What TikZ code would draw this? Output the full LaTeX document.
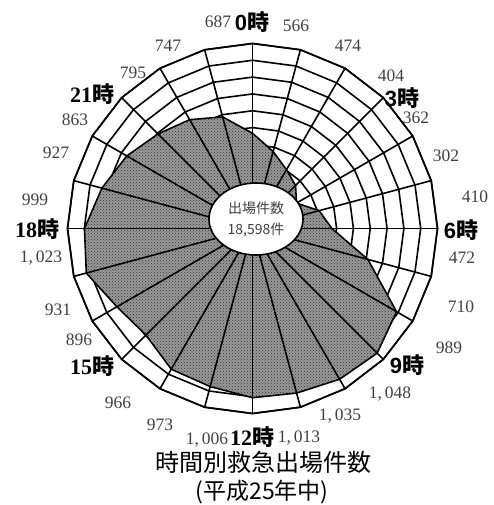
\documentclass[tikz,border=0pt]{standalone}
\usepackage{fontspec}
\setmainfont{Liberation Serif}
\setsansfont{Liberation Sans}
\newfontfamily\jpfont{Noto Sans CJK JP}
\usetikzlibrary{patterns, shapes.geometric}

\newcommand{\valscale}{0.16818}
\newcommand{\hr}[1]{#1{\jpfont\bfseries 時}}

\tikzset{
  grid/.style={line width=1.6pt, line join=miter},
  area/.style={draw=black, line width=1.6pt, fill=black!40,
    postaction={pattern=crosshatch dots, pattern color=black!80}},
  val/.style={text=black!75, inner sep=0pt, font=\fontsize{17.5}{17.5}\selectfont},
  hour/.style={inner sep=0pt, font=\fontsize{22}{22}\selectfont\bfseries},
}

\begin{document}
\begin{tikzpicture}[x=1pt, y=-1pt]
\useasboundingbox (0,0) rectangle (493,505);

\begin{scope}[shift={(252.5,228.5)}]
  \foreach \k in {1,...,11}
    \draw[grid] (-90:\k*16.82) \foreach \i in {1,...,23}{ -- ({15*\i-90}:\k*16.82)} -- cycle;
  \draw[area] (-90:566*\valscale)
    \foreach \v [count=\i] in {474,404,362,302,410,472,710,989,1048,1035,1013,1006,973,966,896,931,1023,999,927,863,795,747,687}
      { -- ({15*\i-90}:\v*\valscale)} -- cycle;
  \foreach \i in {0,...,23}
    \draw[grid] (0,0) -- ({15*\i-90}:185);
  \draw[grid] (-90:185) \foreach \i in {1,...,23}{ -- ({15*\i-90}:185)} -- cycle;
\end{scope}

\node[draw, ellipse, fill=white, line width=1.6pt, minimum width=94pt, minimum height=72pt,
  inner sep=0pt, align=center, text=black!75, font=\jpfont\fontsize{14}{21}\selectfont]
  (total) at (256,219) {出場件数\\18,598件};

\foreach \x/\y/\t/\n in {
  218/22/687/v23, 296/26/566/v0, 348/46/474/v1, 391/76/404/v2, 416/118/362/v3,
  446/156/302/v4, 475/197/410/v5, 462/258/472/v6, 461/307/710/v7, 449/348/989/v8,
  390/394/{1,\,048}/v9, 340/416/{1,\,035}/v10, 299/438/{1,\,013}/v11, 207/440/{1,\,006}/v12,
  160/425/973/v13, 118/403/966/v14, 79/340/896/v15, 58/310/931/v16, 41/258/{1,\,023}/v17,
  35/200/999/v18, 56/153/927/v19, 75/120/863/v20, 133/73/795/v21, 168/46/747/v22}
  \node[val] (\n) at (\x,\y) {\t};

\foreach \x/\y/\t/\n in {252/22/0/h0, 402/98/3/h3, 461/230/6/h6, 407/365/9/h9}
  \node[hour, font=\fontsize{22}{22}\selectfont\sffamily\bfseries] (\n) at (\x,\y) {\hr{\t}};
\foreach \x/\y/\t/\n in {252/437/12/h12, 92/366/15/h15, 37/229/18/h18, 92/94/21/h21}
  \node[hour] (\n) at (\x,\y) {\hr{\t}};

\node[font=\jpfont\fontsize{24}{24}\selectfont, inner sep=0pt] (title) at (263,462) {時間別救急出場件数};
\node[font=\jpfont\fontsize{23}{23}\selectfont, inner sep=0pt] (year) at (262,492) {(平成25年中)};
\end{tikzpicture}
\end{document}
